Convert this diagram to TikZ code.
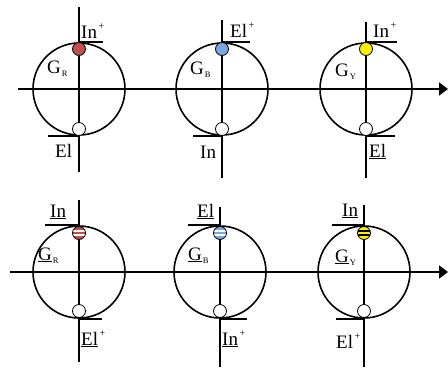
\documentclass[tikz,border=0pt]{standalone}
\usepackage{fontspec}
\setmainfont{Liberation Serif}
\usetikzlibrary{arrows.meta}

\definecolor{beadred}{RGB}{192,80,77}
\definecolor{beadblue}{RGB}{122,167,224}
\definecolor{beadyellow}{RGB}{250,240,0}

\newcommand{\labelfont}{\fontsize{19}{21}\selectfont}
\newcommand{\supplus}{\hspace{1.5pt}\raisebox{9pt}{\fontsize{10}{10}\selectfont +}}
\newcommand{\gsub}[1]{\hspace{1pt}\raisebox{-3.5pt}{\fontsize{8.5}{9}\selectfont #1}}

\begin{document}
\begin{tikzpicture}[x=1pt, y=-1pt,
        ring/.style={
            circle,
            draw,
            line width=1.6pt,
            minimum size=92pt,
            inner sep=0pt
        },
        bead/.style={
            circle,
            draw,
            line width=0.8pt,
            minimum size=13pt,
            inner sep=0pt
        },
        banded/.style={
            path picture={
                \fill[#1] ([yshift=0.9pt]path picture bounding box.west)
                    rectangle ([yshift=2.6pt]path picture bounding box.east);
                \fill[#1] ([yshift=-0.9pt]path picture bounding box.west)
                    rectangle ([yshift=-2.6pt]path picture bounding box.east);
            }
        },
        wire/.style={
            line width=1.6pt
        },
        axis/.style={
            line width=1.6pt,
            -{Triangle[length=9pt,width=13pt]}
        },
        tag/.style={
            anchor=base west,
            inner sep=0pt,
            font=\labelfont
        }
    ]
    \useasboundingbox (0,0) rectangle (448,368);

        % Top row
        \coordinate (tstart) at (18,89);
        \coordinate (tend) at (448,89);
        \draw[axis] (tstart) -- (tend);

        \node[ring] (gr) at (79,89) {};
        \node[ring] (gb) at (222,89) {};
        \node[ring] (gy) at (366,89) {};

        \draw[wire] (79,7) -- (79,172);
        \draw[wire] (222,20) -- (222,178);
        \draw[wire] (366,22) -- (366,178);

        \draw[wire] (gr.north) -- ++(24,0);
        \draw[wire] (gr.south) -- ++(-31,0);
        \draw[wire] (gb.north) -- ++(28,0);
        \draw[wire] (gb.south) -- ++(-29,0);
        \draw[wire] (gy.north) -- ++(31,0);
        \draw[wire] (gy.south) -- ++(29,0);

        \node[bead, fill=beadred] (grtop) at (79,49) {};
        \node[bead, fill=white] (grbot) at (79,129) {};
        \node[bead, fill=beadblue] (gbtop) at (222,49) {};
        \node[bead, fill=white] (gbbot) at (222,129) {};
        \node[bead, fill=beadyellow] (gytop) at (366,49) {};
        \node[bead, fill=white] (gybot) at (366,129) {};

        \node[tag] (grin) at (81,38) {In\supplus};
        \node[tag] (grname) at (47,73) {G\gsub{R}};
        \node[tag] (grel) at (55,157) {El};
        \node[tag] (gbel) at (230,37) {El\supplus};
        \node[tag] (gbname) at (190,74) {G\gsub{B}};
        \node[tag] (gbin) at (200,158) {In};
        \node[tag] (gyin) at (373,37) {In\supplus};
        \node[tag] (gyname) at (335,76) {G\gsub{Y}};
        \node[tag] (gyel) at (369,157) {\underline{El}};

        % Bottom row
        \coordinate (bstart) at (10,272);
        \coordinate (bend) at (448,272);
        \draw[axis] (bstart) -- (bend);

        \node[ring] (hr) at (79,272) {};
        \node[ring] (hb) at (220,272) {};
        \node[ring] (hy) at (364,272) {};

        \draw[wire] (79,200) -- (79,362);
        \draw[wire] (220,207) -- (220,367);
        \draw[wire] (364,205) -- (364,367);

        \draw[wire] (hr.north) -- ++(-34,0);
        \draw[wire] (hr.south) -- ++(23,0);
        \draw[wire] (hb.north) -- ++(-32,0);
        \draw[wire] (hb.south) -- ++(27,0);
        \draw[wire] (hy.north) -- ++(-32,0);
        \draw[wire] (hy.south) -- ++(-28,0);

        \node[bead, fill=beadred, banded=white] (hrtop) at (79,233) {};
        \node[bead, fill=white] (hrbot) at (79,311) {};
        \node[bead, fill=beadblue, banded=white] (hbtop) at (220,233) {};
        \node[bead, fill=white] (hbbot) at (220,311) {};
        \node[bead, fill=beadyellow, banded=black] (hytop) at (364,233) {};
        \node[bead, fill=white] (hybot) at (364,311) {};

        \node[tag] (hrin) at (50,217) {\underline{In}};
        \node[tag] (hrname) at (38,260) {\underline{G}\gsub{R}};
        \node[tag] (hrel) at (81,345) {\underline{El}\supplus};
        \node[tag] (hbel) at (197,217) {\underline{El}};
        \node[tag] (hbname) at (188,260) {\underline{G}\gsub{B}};
        \node[tag] (hbin) at (222,345) {\underline{In}\supplus};
        \node[tag] (hyin) at (342,216) {\underline{In}};
        \node[tag] (hyname) at (335,262) {\underline{G}\gsub{Y}};
        \node[tag] (hyel) at (336,348) {El\supplus};

    \end{tikzpicture}
\end{document}
